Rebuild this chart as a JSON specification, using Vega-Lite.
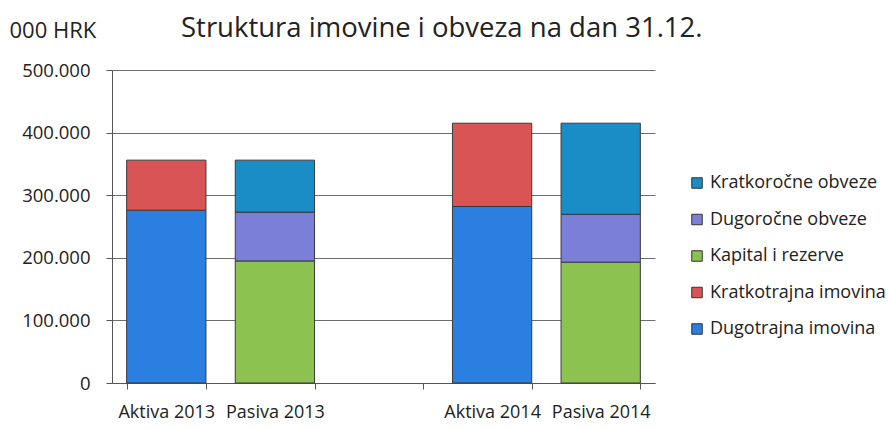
{
  "$schema": "https://vega.github.io/schema/vega-lite/v6.json",
  "width": 543,
  "height": 313,
  "autosize": {"type": "none"},
  "padding": {"left": 112, "top": 70, "right": 233, "bottom": 47},
  "background": "white",
  "config": {
    "view": {"stroke": null},
    "font": "Open Sans",
    "axis": {"labelFont": "Open Sans", "titleFont": "Open Sans", "labelColor": "#222", "titleColor": "#222"}
  },
  "title": {
    "text": "Struktura imovine i obveza na dan 31.12.",
    "anchor": "start",
    "dx": 172,
    "dy": 39,
    "fontSize": 27.5,
    "font": "Open Sans",
    "fontWeight": "normal",
    "color": "#222",
    "offset": 16
  },
  "data": {
    "values": [
      {"kat": "Aktiva 2013", "stavka": "Dugotrajna imovina", "red": 1, "vrijednost": 276000},
      {"kat": "Aktiva 2013", "stavka": "Kratkotrajna imovina", "red": 2, "vrijednost": 80000},
      {"kat": "Pasiva 2013", "stavka": "Kapital i rezerve", "red": 3, "vrijednost": 195000},
      {"kat": "Pasiva 2013", "stavka": "Dugoročne obveze", "red": 4, "vrijednost": 78000},
      {"kat": "Pasiva 2013", "stavka": "Kratkoročne obveze", "red": 5, "vrijednost": 83000},
      {"kat": "Aktiva 2014", "stavka": "Dugotrajna imovina", "red": 1, "vrijednost": 282000},
      {"kat": "Aktiva 2014", "stavka": "Kratkotrajna imovina", "red": 2, "vrijednost": 133000},
      {"kat": "Pasiva 2014", "stavka": "Kapital i rezerve", "red": 3, "vrijednost": 193000},
      {"kat": "Pasiva 2014", "stavka": "Dugoročne obveze", "red": 4, "vrijednost": 76500},
      {"kat": "Pasiva 2014", "stavka": "Kratkoročne obveze", "red": 5, "vrijednost": 145500}
    ]
  },
  "mark": {"type": "bar", "stroke": "#3a3a3a", "strokeWidth": 1},
  "encoding": {
    "x": {
      "field": "kat",
      "type": "nominal",
      "scale": {"domain": ["Aktiva 2013", "Pasiva 2013", " ", "Aktiva 2014", "Pasiva 2014"], "paddingInner": 0.27, "paddingOuter": 0.135},
      "axis": {
        "title": null,
        "labelAngle": 0,
        "labelFontSize": 18,
        "labelPadding": 14,
        "tickBand": "extent",
        "tickSize": 6,
        "tickColor": "#555",
        "domainColor": "#555",
        "grid": false
      }
    },
    "y": {
      "field": "vrijednost",
      "type": "quantitative",
      "aggregate": "sum",
      "stack": "zero",
      "scale": {"domain": [0, 500000], "nice": false},
      "axis": {
        "values": [0, 100000, 200000, 300000, 400000, 500000],
        "labelExpr": "replace(format(datum.value, ','), ',', '.')",
        "labelFontSize": 18.5,
        "labelPadding": 16,
        "tickSize": 6,
        "tickColor": "#555",
        "domainColor": "#555",
        "gridColor": "#6e6e6e",
        "gridWidth": 1,
        "title": "000 HRK",
        "titleAngle": 0,
        "titleAlign": "left",
        "titleBaseline": "alphabetic",
        "titleFontSize": 22,
        "titleFontWeight": "normal",
        "titleX": -103,
        "titleY": -33
      }
    },
    "color": {
      "field": "stavka",
      "type": "nominal",
      "scale": {
        "domain": ["Kratkoročne obveze", "Dugoročne obveze", "Kapital i rezerve", "Kratkotrajna imovina", "Dugotrajna imovina"],
        "range": ["#1a8cc6", "#7b7fd8", "#8cc350", "#d95555", "#2a7fe0"]
      },
      "legend": {
        "title": null,
        "orient": "none",
        "legendX": 576,
        "legendY": 104,
        "symbolType": "square",
        "symbolSize": 110,
        "symbolStrokeColor": "#333",
        "symbolStrokeWidth": 1,
        "labelFontSize": 18,
        "labelFont": "Open Sans",
        "labelColor": "#222",
        "labelLimit": 300,
        "rowPadding": 18.5,
        "labelOffset": 4
      }
    },
    "order": {"field": "red", "type": "quantitative"}
  }
}
